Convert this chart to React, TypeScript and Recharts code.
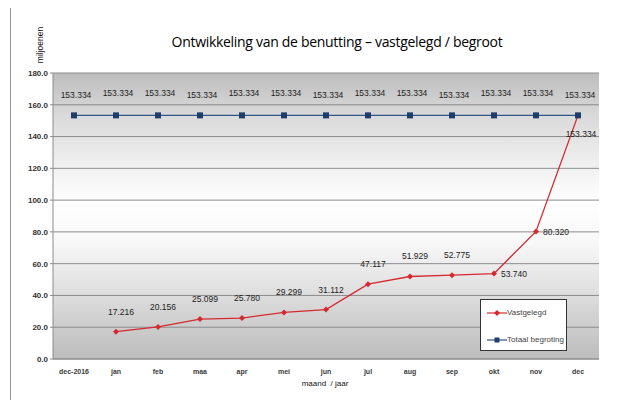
import { LineChart, Line, XAxis, YAxis, CartesianGrid, LabelList } from "recharts";

const maanden = ["dec-2016", "jan", "feb", "maa", "apr", "mei", "jun", "jul", "aug", "sep", "okt", "nov", "dec"];
const vastgelegd = [null, 17.216, 20.156, 25.099, 25.78, 29.299, 31.112, 47.117, 51.929, 52.775, 53.74, 80.32, 153.334];
const begroting = [153.334, 153.334, 153.334, 153.334, 153.334, 153.334, 153.334, 153.334, 153.334, 153.334, 153.334, 153.334, 153.334];
const yTicks = [0, 20, 40, 60, 80, 100, 120, 140, 160, 180];

const data = maanden.map((m, i) => ({ maand: m, vastgelegd: vastgelegd[i], begroting: begroting[i] }));

const RED = "#d42a2f";
const BLUE = "#2f5586";
const FONT = "'Liberation Sans', Arial, sans-serif";

const fmt = (v: number) => v.toFixed(3);

const Diamond = (props: any) => {
  const { cx, cy } = props;
  if (cx == null || cy == null || props.value == null) return null;
  return <path d={`M${cx},${cy - 3} L${cx + 3},${cy} L${cx},${cy + 3} L${cx - 3},${cy} Z`} fill={RED} />;
};

const Square = (props: any) => {
  const { cx, cy } = props;
  if (cx == null || cy == null) return null;
  return <rect x={cx - 3} y={cy - 3} width={6} height={6} fill="#1f3d6b" />;
};

const XTick = (props: any) => {
  const { x, y, payload } = props;
  return (
    <text x={x} y={y} dy="0.71em" textAnchor="middle" fontSize={7} fontFamily={FONT} fontWeight="bold" fill="#3a3a3a" stroke="none">
      {payload.value}
    </text>
  );
};

const redLabel = (props: any) => {
  const { x, y, value, index } = props;
  if (value == null) return null;
  let dx = 5;
  let dy = -20;
  if (index === 10) { dx = 20; dy = 0; }
  if (index === 11) { dx = 20; dy = 1; }
  if (index === 12) { dx = 3; dy = 19; }
  return (
    <text x={x + dx} y={y + dy} dy="0.35em" textAnchor="middle" fontSize={8.5} fontFamily={FONT} fill="#222">
      {fmt(value)}
    </text>
  );
};

const blueLabel = (props: any) => {
  const { x, y, value, index } = props;
  const dy = index % 3 === 0 ? -20 : -22;
  return (
    <text x={x + 2} y={y + dy} dy="0.35em" textAnchor="middle" fontSize={8.5} fontFamily={FONT} fill="#222">
      {fmt(value)}
    </text>
  );
};

export default function App() {
  return (
    <div style={{ position: "relative", left: -8, top: -8, width: 634, height: 400, overflow: "hidden", background: "#fff" }}>
      <div style={{ position: "absolute", left: 10, top: 7, width: 700, height: 500, border: "1px solid #9a9a9a" }} />
      <div style={{ position: "absolute", left: 0, width: 674, top: 32, textAlign: "center", fontFamily: "'Open Sans', sans-serif", fontSize: 14, color: "#000", letterSpacing: -0.3 }}>
        Ontwikkeling van de benutting – vastgelegd / begroot
      </div>
      <div style={{ position: "absolute", left: 40, top: 45, transform: "translate(-50%, -50%) rotate(-90deg)", fontFamily: FONT, fontSize: 8.5, color: "#111", whiteSpace: "nowrap" }}>
        miljoenen
      </div>
      <div style={{ position: "absolute", left: 325, top: 383, transform: "translate(-50%, -50%)", fontFamily: FONT, fontSize: 8, color: "#111", whiteSpace: "nowrap" }}>
        maand&nbsp; / jaar
      </div>
      <LineChart width={634} height={400} data={data} margin={{ top: 73, right: 35, bottom: 21, left: 0 }} style={{ position: "absolute", left: 0, top: 0 }}>
        <defs>
          <linearGradient id="bg" x1="0" y1="0" x2="0" y2="1">
            <stop offset="0" stopColor="#bdbdbd" />
            <stop offset="0.15" stopColor="#dadada" />
            <stop offset="0.45" stopColor="#ffffff" />
            <stop offset="0.6" stopColor="#f7f7f7" />
            <stop offset="1" stopColor="#bcbcbc" />
          </linearGradient>
        </defs>
        <CartesianGrid vertical={false} stroke="#8c8c8c" fill="url(#bg)" fillOpacity={1} />
        <XAxis
          dataKey="maand"
          height={20}
          interval={0}
          padding={{ left: 21, right: 21 }}
          tickLine={false}
          axisLine={{ stroke: "#8c8c8c" }}
          tick={<XTick />}
          tickMargin={4}
        />
        <YAxis
          width={53}
          domain={[0, 180]}
          ticks={yTicks}
          tickFormatter={(v: number) => v.toFixed(1)}
          axisLine={{ stroke: "#8c8c8c" }}
          tickLine={{ stroke: "#8c8c8c" }}
          tickSize={3}
          tick={{ fontSize: 8, fontFamily: FONT, fontWeight: "bold", fill: "#333" }}
        />
        <Line
          dataKey="vastgelegd"
          name="Vastgelegd"
          stroke={RED}
          strokeWidth={1.3}
          dot={<Diamond />}
          activeDot={false}
          connectNulls={false}
          isAnimationActive={false}
        >
          <LabelList dataKey="vastgelegd" content={redLabel} />
        </Line>
        <Line
          dataKey="begroting"
          name="Totaal begroting"
          stroke={BLUE}
          strokeWidth={1.3}
          dot={<Square />}
          activeDot={false}
          isAnimationActive={false}
        >
          <LabelList dataKey="begroting" content={blueLabel} />
        </Line>
      </LineChart>
      <div style={{ position: "absolute", left: 480, top: 299, width: 85, height: 50, border: "1px solid #333", background: "#fff", fontFamily: FONT, fontSize: 8, color: "#444" }}>
        <div style={{ display: "flex", alignItems: "center", marginTop: 8, marginLeft: 6 }}>
          <svg width={20} height={8}>
            <line x1={0} y1={4} x2={20} y2={4} stroke={RED} strokeWidth={1.2} />
            <path d="M10,1 L13,4 L10,7 L7,4 Z" fill={RED} />
          </svg>
          <span>Vastgelegd</span>
        </div>
        <div style={{ display: "flex", alignItems: "center", marginTop: 18, marginLeft: 6 }}>
          <svg width={20} height={8}>
            <line x1={0} y1={4} x2={20} y2={4} stroke={BLUE} strokeWidth={1.2} />
            <rect x={7.5} y={1.5} width={5} height={5} fill="#1f3d6b" />
          </svg>
          <span>Totaal begroting</span>
        </div>
      </div>
    </div>
  );
}
